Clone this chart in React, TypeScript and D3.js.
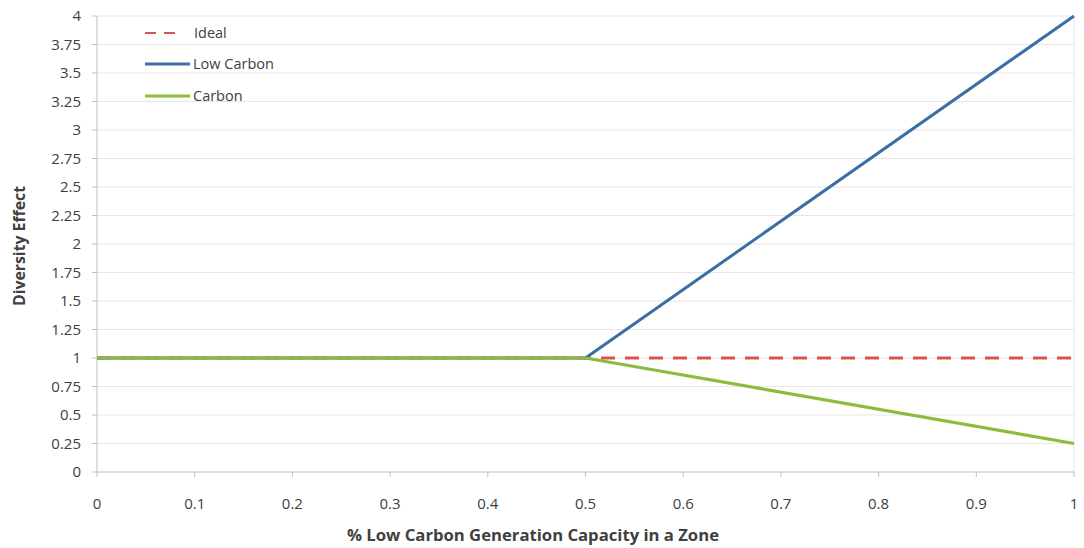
import React from "react";
import * as d3 from "d3";

const xTicks = [0, 0.1, 0.2, 0.3, 0.4, 0.5, 0.6, 0.7, 0.8, 0.9, 1];
const yTicks = [0, 0.25, 0.5, 0.75, 1, 1.25, 1.5, 1.75, 2, 2.25, 2.5, 2.75, 3, 3.25, 3.5, 3.75, 4];
const idealX = [0, 0.5, 1];
const idealY = [1, 1, 1];
const lowCarbonX = [0, 0.5, 1];
const lowCarbonY = [1, 1, 4];
const carbonX = [0, 0.5, 1];
const carbonY = [1, 1, 0.25];

const W = 1084, H = 548;
const M = { left: 97, right: 10, top: 16, bottom: 76 };

export default function App() {
  const x = d3.scaleLinear().domain([0, 1]).range([M.left, W - M.right]);
  const y = d3.scaleLinear().domain([0, 4]).range([H - M.bottom, M.top]);
  const line = d3.line<[number, number]>().x(d => x(d[0])).y(d => y(d[1]));
  const zip = (a: number[], b: number[]) => a.map((v, i) => [v, b[i]] as [number, number]);
  const font = "'Open Sans', 'Liberation Sans', sans-serif";
  const tc = "#404040";
  return (
    <svg width={W} height={H} style={{ position: "absolute", left: 0, top: 0, background: "#fff" }} fontFamily={font}>
      {yTicks.map(t => (
        <g key={"y" + t}>
          {t > 0 && <line x1={x(0)} x2={x(1)} y1={y(t)} y2={y(t)} stroke="#e6e6e6" strokeWidth={1} />}
          <line x1={x(0) - 5} x2={x(0)} y1={y(t)} y2={y(t)} stroke="#bfbfbf" />
          <text x={x(0) - 16} y={y(t)} dy="0.35em" textAnchor="end" fontSize={15} fill={tc}>{String(t)}</text>
        </g>
      ))}
      <line x1={x(1)} x2={x(1)} y1={y(0)} y2={y(4)} stroke="#e6e6e6" />
      <line x1={x(0)} x2={x(0)} y1={y(0)} y2={y(4)} stroke="#bfbfbf" />
      <line x1={x(0)} x2={x(1)} y1={y(0)} y2={y(0)} stroke="#bfbfbf" />
      {xTicks.map(t => (
        <g key={"x" + t}>
          <line x1={x(t)} x2={x(t)} y1={y(0)} y2={y(0) + 5} stroke="#bfbfbf" />
          <text x={x(t)} y={y(0) + 37} textAnchor="middle" fontSize={15} fill={tc}>{String(t)}</text>
        </g>
      ))}
      <path d={line(zip(idealX, idealY)) || ""} fill="none" stroke="#d9534f" strokeWidth={3} strokeDasharray="14 10" />
      <path d={line(zip(lowCarbonX, lowCarbonY)) || ""} fill="none" stroke="#3a6ea5" strokeWidth={3} />
      <path d={line(zip(carbonX, carbonY)) || ""} fill="none" stroke="#8dbb3e" strokeWidth={3.2} />
      <g fontSize={14.5} fill={tc}>
        <line x1={145} x2={180} y1={33} y2={33} stroke="#d9534f" strokeWidth={2} strokeDasharray="11 8" />
        <text x={194} y={33} dy="0.35em">Ideal</text>
        <line x1={145} x2={190} y1={64} y2={64} stroke="#3a6ea5" strokeWidth={3} />
        <text x={193} y={64} dy="0.35em">Low Carbon</text>
        <line x1={145} x2={190} y1={96} y2={96} stroke="#8dbb3e" strokeWidth={3} />
        <text x={193} y={96} dy="0.35em">Carbon</text>
      </g>
      <text x={533} y={541} textAnchor="middle" fontSize={16} fontWeight="bold" fill={tc} textLength={372} lengthAdjust="spacingAndGlyphs">% Low Carbon Generation Capacity in a Zone</text>
      <text transform={`translate(25, 246) rotate(-90)`} textAnchor="middle" fontSize={16} fontWeight="bold" fill={tc} textLength={120} lengthAdjust="spacingAndGlyphs">Diversity Effect</text>
    </svg>
  );
}
